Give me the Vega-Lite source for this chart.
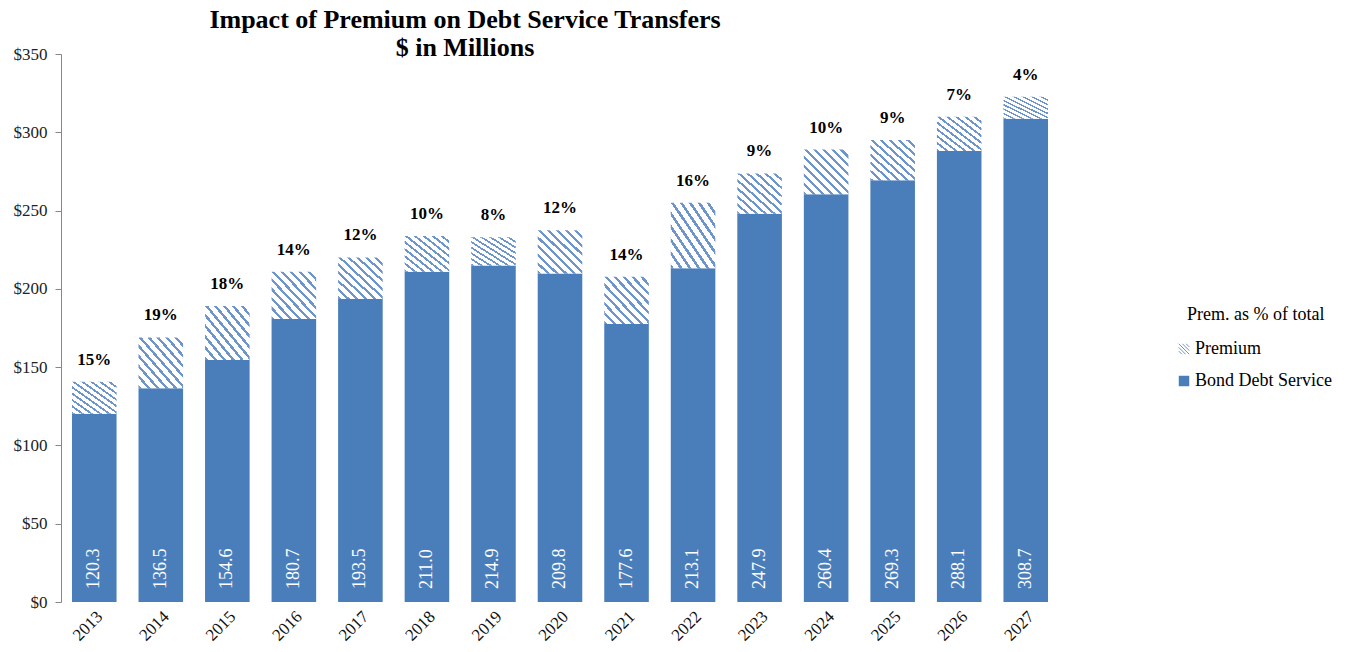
{
  "$schema": "https://vega.github.io/schema/vega-lite/v6.json",
  "width": 998,
  "height": 548,
  "autosize": "none",
  "padding": {"left": 61, "top": 54, "right": 292, "bottom": 50},
  "background": "white",
  "config": {"font": "Liberation Serif", "view": {"stroke": null}},
  "title": {
    "text": ["Impact of  Premium on Debt Service Transfers", "$ in Millions"],
    "fontSize": 26,
    "fontWeight": "bold",
    "font": "Liberation Serif",
    "color": "#000",
    "anchor": "middle",
    "dx": -95,
    "offset": -16,
    "lineHeight": 28
  },
  "data": {
    "values": [
      {"year": "2013", "bond": 120.3, "total": 140.6, "pct": "15%"},
      {"year": "2014", "bond": 136.5, "total": 169.0, "pct": "19%"},
      {"year": "2015", "bond": 154.6, "total": 189.0, "pct": "18%"},
      {"year": "2016", "bond": 180.7, "total": 210.9, "pct": "14%"},
      {"year": "2017", "bond": 193.5, "total": 220.1, "pct": "12%"},
      {"year": "2018", "bond": 211.0, "total": 233.7, "pct": "10%"},
      {"year": "2019", "bond": 214.9, "total": 232.9, "pct": "8%"},
      {"year": "2020", "bond": 209.8, "total": 237.5, "pct": "12%"},
      {"year": "2021", "bond": 177.6, "total": 207.7, "pct": "14%"},
      {"year": "2022", "bond": 213.1, "total": 255.0, "pct": "16%"},
      {"year": "2023", "bond": 247.9, "total": 273.7, "pct": "9%"},
      {"year": "2024", "bond": 260.4, "total": 289.0, "pct": "10%"},
      {"year": "2025", "bond": 269.3, "total": 295.0, "pct": "9%"},
      {"year": "2026", "bond": 288.1, "total": 309.9, "pct": "7%"},
      {"year": "2027", "bond": 308.7, "total": 322.7, "pct": "4%"}
    ]
  },
  "encoding": {
    "x": {
      "field": "year",
      "type": "ordinal",
      "scale": {"paddingInner": 0.33, "paddingOuter": 0.165},
      "axis": {
        "title": null,
        "labelAngle": -45,
        "domain": false,
        "ticks": false,
        "labelFontSize": 17,
        "labelColor": "#111",
        "labelPadding": 6
      }
    }
  },
  "layer": [
    {
      "mark": {"type": "bar"},
      "encoding": {
        "y": {
          "field": "bond",
          "type": "quantitative",
          "stack": null,
          "scale": {"domain": [0, 350]},
          "axis": {
            "title": null,
            "values": [0, 50, 100, 150, 200, 250, 300, 350],
            "format": "$.0f",
            "grid": false,
            "domainColor": "#868686",
            "tickColor": "#868686",
            "tickSize": 6,
            "labelFontSize": 17,
            "labelColor": "#222",
            "labelPadding": 8
          }
        },
        "color": {
          "datum": "Bond Debt Service",
          "type": "nominal",
          "scale": {"domain": ["Premium", "Bond Debt Service"], "range": ["#a9bfe0", "#4a7ebb"]},
          "legend": {
            "orient": "none",
            "legendX": 1114,
            "legendY": 252,
            "title": "Prem. as % of total",
            "titleFontWeight": "normal",
            "titleFontSize": 18,
            "titleColor": "#000",
            "titlePadding": 16,
            "labelFontSize": 18,
            "labelColor": "#000",
            "symbolType": "square",
            "symbolSize": 110,
            "rowPadding": 14,
            "labelOffset": 2,
            "encode": {
              "title": {"update": {"dx": {"value": 12}}},
              "symbols": {
                "update": {
                  "shape": {"signal": "datum.value === 'Premium' ? 'M-1,-1L1,1M-0.3,-1L1,0.3M-1,-0.3L0.3,1M0.4,-1L1,-0.4M-1,0.4L-0.4,1' : 'square'"},
                  "fill": {"signal": "datum.value === 'Premium' ? 'transparent' : '#4a7ebb'"},
                  "stroke": {"signal": "datum.value === 'Premium' ? '#6d95cc' : 'transparent'"},
                  "strokeWidth": {"value": 1}
                }
              }
            }
          }
        }
      }
    },
    {
      "mark": {
        "type": "bar",
        "fill": {
          "gradient": "linear",
          "x1": 0, "y1": 1, "x2": 1, "y2": 0,
          "stops": [
            {"offset": 0.0, "color": "#6d95cc"}, {"offset": 0.035, "color": "#6d95cc"}, {"offset": 0.035, "color": "#ffffff"}, {"offset": 0.1, "color": "#ffffff"},
            {"offset": 0.1, "color": "#6d95cc"}, {"offset": 0.135, "color": "#6d95cc"}, {"offset": 0.135, "color": "#ffffff"}, {"offset": 0.2, "color": "#ffffff"},
            {"offset": 0.2, "color": "#6d95cc"}, {"offset": 0.235, "color": "#6d95cc"}, {"offset": 0.235, "color": "#ffffff"}, {"offset": 0.3, "color": "#ffffff"},
            {"offset": 0.3, "color": "#6d95cc"}, {"offset": 0.335, "color": "#6d95cc"}, {"offset": 0.335, "color": "#ffffff"}, {"offset": 0.4, "color": "#ffffff"},
            {"offset": 0.4, "color": "#6d95cc"}, {"offset": 0.435, "color": "#6d95cc"}, {"offset": 0.435, "color": "#ffffff"}, {"offset": 0.5, "color": "#ffffff"},
            {"offset": 0.5, "color": "#6d95cc"}, {"offset": 0.535, "color": "#6d95cc"}, {"offset": 0.535, "color": "#ffffff"}, {"offset": 0.6, "color": "#ffffff"},
            {"offset": 0.6, "color": "#6d95cc"}, {"offset": 0.635, "color": "#6d95cc"}, {"offset": 0.635, "color": "#ffffff"}, {"offset": 0.7, "color": "#ffffff"},
            {"offset": 0.7, "color": "#6d95cc"}, {"offset": 0.735, "color": "#6d95cc"}, {"offset": 0.735, "color": "#ffffff"}, {"offset": 0.8, "color": "#ffffff"},
            {"offset": 0.8, "color": "#6d95cc"}, {"offset": 0.835, "color": "#6d95cc"}, {"offset": 0.835, "color": "#ffffff"}, {"offset": 0.9, "color": "#ffffff"},
            {"offset": 0.9, "color": "#6d95cc"}, {"offset": 0.935, "color": "#6d95cc"}, {"offset": 0.935, "color": "#ffffff"}, {"offset": 1.0, "color": "#ffffff"}
          ]
        }
      },
      "encoding": {
        "y": {"field": "bond", "type": "quantitative"},
        "y2": {"field": "total"}
      }
    },
    {
      "mark": {"type": "text", "angle": 270, "align": "left", "baseline": "middle", "dx": 13, "color": "#ffffff", "fontSize": 18},
      "encoding": {
        "y": {"datum": 0, "type": "quantitative"},
        "text": {"field": "bond", "type": "quantitative", "format": ".1f"}
      }
    },
    {
      "mark": {"type": "text", "baseline": "middle", "dy": -22, "color": "#000", "fontSize": 17, "fontWeight": "bold"},
      "encoding": {
        "y": {"field": "total", "type": "quantitative"},
        "text": {"field": "pct", "type": "nominal"}
      }
    }
  ]
}
